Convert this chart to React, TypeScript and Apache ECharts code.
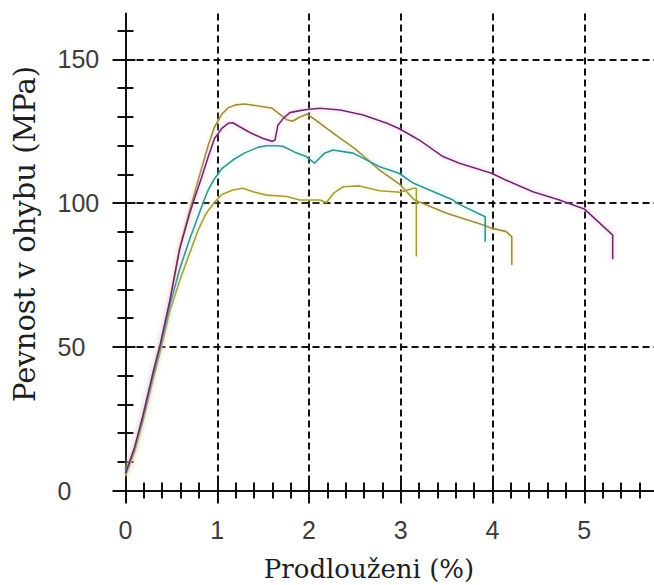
import React, { useEffect, useRef } from "react";
import * as echarts from "echarts";

// Axis extents and tick positions
const X_MAX = 5.76;
const Y_MAX = 166;
const xMajorTicks = [0, 1, 2, 3, 4, 5];
const yMajorTicks = [0, 50, 100, 150];

const xTitle = "Prodlouženi (%)";
const yTitle = "Pevnost v ohybu (MPa)";

// Elongation (%) vs. flexural strength (MPa) for four specimens
const purpleCurve: [number, number][] = [
  [0, 6], [0.1, 15], [0.19, 26], [0.3, 41], [0.38, 51], [0.48, 65.5], [0.59, 84], [0.7, 96.5],
  [0.74, 100.5], [0.83, 109], [0.9, 116], [0.97, 122.5], [1.05, 126], [1.12, 127.8], [1.17, 128],
  [1.25, 126.5], [1.36, 124.5], [1.5, 122.5], [1.6, 121.5], [1.63, 122], [1.66, 127], [1.72, 129.5],
  [1.79, 131.5], [1.9, 132.2], [1.98, 132.6], [2.12, 133], [2.34, 132.4], [2.59, 130.7], [2.85, 127.8],
  [2.98, 126], [3.2, 122], [3.46, 116.2], [3.64, 113.9], [3.99, 110.4], [4.15, 108], [4.44, 104],
  [4.73, 101.1], [5.0, 98], [5.13, 94.2], [5.31, 88.9], [5.31, 80.5],
];

const goldCurve: [number, number][] = [
  [0, 6], [0.1, 15], [0.19, 26], [0.3, 41], [0.38, 51], [0.48, 65.5], [0.59, 84.5], [0.7, 97.5],
  [0.81, 110], [0.9, 120], [0.97, 126.5], [1.05, 131], [1.12, 133.2], [1.2, 134.2], [1.3, 134.5],
  [1.45, 133.8], [1.6, 133], [1.68, 131], [1.76, 129], [1.82, 128.5], [1.9, 130], [1.98, 131],
  [2.12, 127.8], [2.3, 123.5], [2.5, 119], [2.77, 111.5], [2.99, 106.5], [3.15, 101.1], [3.5, 96.5],
  [3.9, 92.4], [3.99, 91.3], [4.15, 90.1], [4.21, 88.3], [4.21, 78.5],
];

const tealCurve: [number, number][] = [
  [0, 6], [0.1, 15], [0.19, 25.5], [0.3, 40], [0.38, 50], [0.48, 64], [0.59, 77], [0.7, 87.5],
  [0.79, 95.3], [0.85, 100.5], [0.9, 104.5], [0.97, 108.5], [1.05, 112], [1.17, 115], [1.3, 117.5],
  [1.45, 119.5], [1.54, 120], [1.65, 120], [1.72, 119.7], [1.86, 117.5], [1.97, 116.2], [2.06, 113.9],
  [2.17, 117.4], [2.26, 118.5], [2.48, 117.4], [2.77, 112.7], [2.98, 110.4], [3.14, 106.9],
  [3.57, 101.1], [3.61, 100], [3.92, 95.3], [3.92, 86.6],
];

const yellowCurve: [number, number][] = [
  [0, 5], [0.1, 13.5], [0.19, 24], [0.3, 38.5], [0.38, 48.5], [0.48, 62], [0.59, 73], [0.67, 80],
  [0.79, 90.5], [0.88, 96.5], [0.975, 100.5], [1.05, 103], [1.17, 104.6], [1.28, 105.2], [1.39, 104],
  [1.54, 102.8], [1.76, 102.3], [1.9, 101.1], [2.12, 101.1], [2.19, 100.2], [2.27, 103.5],
  [2.37, 105.7], [2.55, 106], [2.77, 104.3], [2.99, 103.8], [3.14, 105.2], [3.17, 105.2], [3.17, 81.4],
];

const seriesDefs = [
  { name: "A", data: goldCurve, color: "#9a8a4c", glow: "rgba(245,225,120,0.8)" },
  { name: "B", data: yellowCurve, color: "#a49c44", glow: "rgba(245,235,120,0.8)" },
  { name: "C", data: tealCurve, color: "#3f8e8e", glow: "rgba(130,235,240,0.8)" },
  { name: "D", data: purpleCurve, color: "#6a2c68", glow: "rgba(240,150,235,0.8)" },
];

const AXIS_COLOR = "#111";
const LABEL_FONT = "'Liberation Sans', Arial, sans-serif";
const TITLE_FONT = "'DejaVu Serif', 'Liberation Serif', serif";

const dashed = { color: AXIS_COLOR, width: 2, type: [7, 4] as number[] };

function xAxisDef(inside: boolean) {
  return {
    type: "value",
    min: 0,
    max: X_MAX,
    interval: 1,
    position: "bottom",
    axisLine: { show: !inside, onZero: false, lineStyle: { color: AXIS_COLOR, width: 2 } },
    axisTick: {
      show: true,
      inside,
      length: inside ? 10 : 13,
      customValues: xMajorTicks,
      lineStyle: { color: AXIS_COLOR, width: 2 },
    },
    minorTick: { show: true, splitNumber: 5, length: 8, lineStyle: { color: AXIS_COLOR, width: 2 } },
    axisLabel: inside
      ? { show: false }
      : {
          show: true,
          customValues: xMajorTicks,
          margin: 27,
          color: "#3c3c3c",
          fontSize: 25,
          fontFamily: LABEL_FONT,
        },
    splitLine: inside
      ? { show: true, showMinLine: false, showMaxLine: true, lineStyle: dashed }
      : { show: false },
  };
}

function yAxisDef(inside: boolean) {
  return {
    type: "value",
    min: 0,
    max: Y_MAX,
    interval: 50,
    position: "left",
    offset: 0,
    axisLine: { show: !inside, onZero: false, lineStyle: { color: AXIS_COLOR, width: 2 } },
    axisTick: {
      show: true,
      inside,
      length: inside ? 10 : 13,
      customValues: yMajorTicks,
      lineStyle: { color: AXIS_COLOR, width: 2 },
    },
    minorTick: { show: true, splitNumber: 5, length: 8, lineStyle: { color: AXIS_COLOR, width: 2 } },
    axisLabel: inside
      ? { show: false }
      : {
          show: true,
          customValues: yMajorTicks,
          margin: 68,
          align: "left",
          color: "#3c3c3c",
          fontSize: 25,
          fontFamily: LABEL_FONT,
        },
    splitLine: inside
      ? { show: true, showMinLine: false, showMaxLine: true, lineStyle: dashed }
      : { show: false },
  };
}

export default function App() {
  const ref = useRef<HTMLDivElement>(null);

  useEffect(() => {
    if (!ref.current) return;
    const chart = echarts.init(ref.current, undefined, { renderer: "svg" });
    chart.setOption({
      animation: false,
      backgroundColor: "#ffffff",
      grid: {
        left: 125.5,
        right: 0,
        top: 13.5,
        bottom: 94.5,
        containLabel: false,
        outerBoundsMode: "none",
      },
      xAxis: [xAxisDef(false), xAxisDef(true)],
      yAxis: [yAxisDef(false), yAxisDef(true)],
      series: seriesDefs.map((s) => ({
        name: s.name,
        type: "line",
        xAxisIndex: 0,
        yAxisIndex: 0,
        data: s.data,
        showSymbol: false,
        symbol: "none",
        lineStyle: {
          color: s.color,
          width: 1.6,
          shadowBlur: 5,
          shadowColor: s.glow,
        },
      })),
      graphic: [
        {
          type: "text",
          x: 369,
          y: 569,
          style: {
            text: xTitle,
            fontSize: 26,
            fontFamily: TITLE_FONT,
            fill: "#1e1e1e",
            align: "center",
            verticalAlign: "middle",
          },
        },
        {
          type: "text",
          x: 25,
          y: 234,
          rotation: Math.PI / 2,
          style: {
            text: yTitle,
            fontSize: 29,
            fontFamily: TITLE_FONT,
            fill: "#1e1e1e",
            align: "center",
            verticalAlign: "middle",
          },
        },
      ],
    });
    return () => chart.dispose();
  }, []);

  return (
    <div
      ref={ref}
      style={{ position: "absolute", left: 0, top: 0, width: 654, height: 585, background: "#fff" }}
    />
  );
}
